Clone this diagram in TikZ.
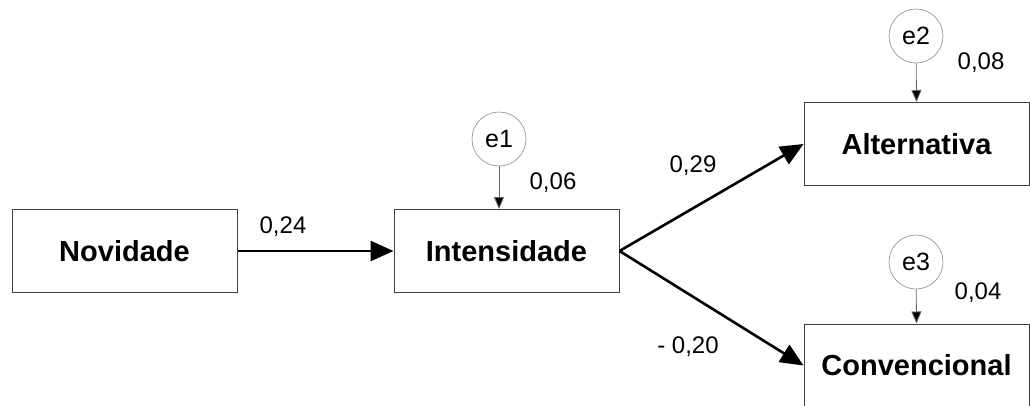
\documentclass[tikz,border=0pt]{standalone}
\usepackage{fontspec}
\setmainfont{Liberation Sans}
\usetikzlibrary{arrows.meta}
\begin{document}
\begin{tikzpicture}[x=1pt,y=-1pt,
  var/.style={draw=black!75,line width=1pt,minimum width=225pt,minimum height=83pt,inner sep=0pt,
    font=\fontsize{29}{34}\selectfont\bfseries},
  err/.style={draw=black!45,line width=0.6pt,circle,minimum size=54pt,inner sep=0pt,
    font=\fontsize{25}{30}\selectfont},
  lbl/.style={font=\fontsize{24}{28}\selectfont,inner sep=0pt},
  path/.style={line width=2.6pt,-{Triangle[length=23pt,width=20pt]}},
  earr/.style={draw=black!60,line width=0.8pt,-{Triangle[length=12pt,width=10pt,fill=black]}}]
\clip (0,0) rectangle (1030,405);
\node[var] (nov) at (124.5,251) {Novidade};
\node[var] (int) at (506.5,251) {Intensidade};
\node[var] (alt) at (916.5,144) {Alternativa};
\node[var] (con) at (916.5,365.5) {Convencional};
\node[err] (e1) at (499,139) {e1};
\node[err] (e2) at (916,36) {e2};
\node[err] (e3) at (916,262) {e3};
\coordinate (t1) at (499,209);
\draw[earr] (e1) -- (t1);
\draw[earr] (e2) -- (alt.north);
\draw[earr] (e3) -- (con.north);
\draw[path] (nov.east) -- (int.west);
\draw[path] (int.east) -- (alt.west);
\draw[path] (int.east) -- (con.west);
\node[lbl] (l24) at (283,227) {0,24};
\node[lbl] (l06) at (553,183) {0,06};
\node[lbl] (l29) at (693,166) {0,29};
\node[lbl] (l20) at (688,347) {- 0,20};
\node[lbl] (l08) at (981,63) {0,08};
\node[lbl] (l04) at (978,293) {0,04};
\end{tikzpicture}
\end{document}
